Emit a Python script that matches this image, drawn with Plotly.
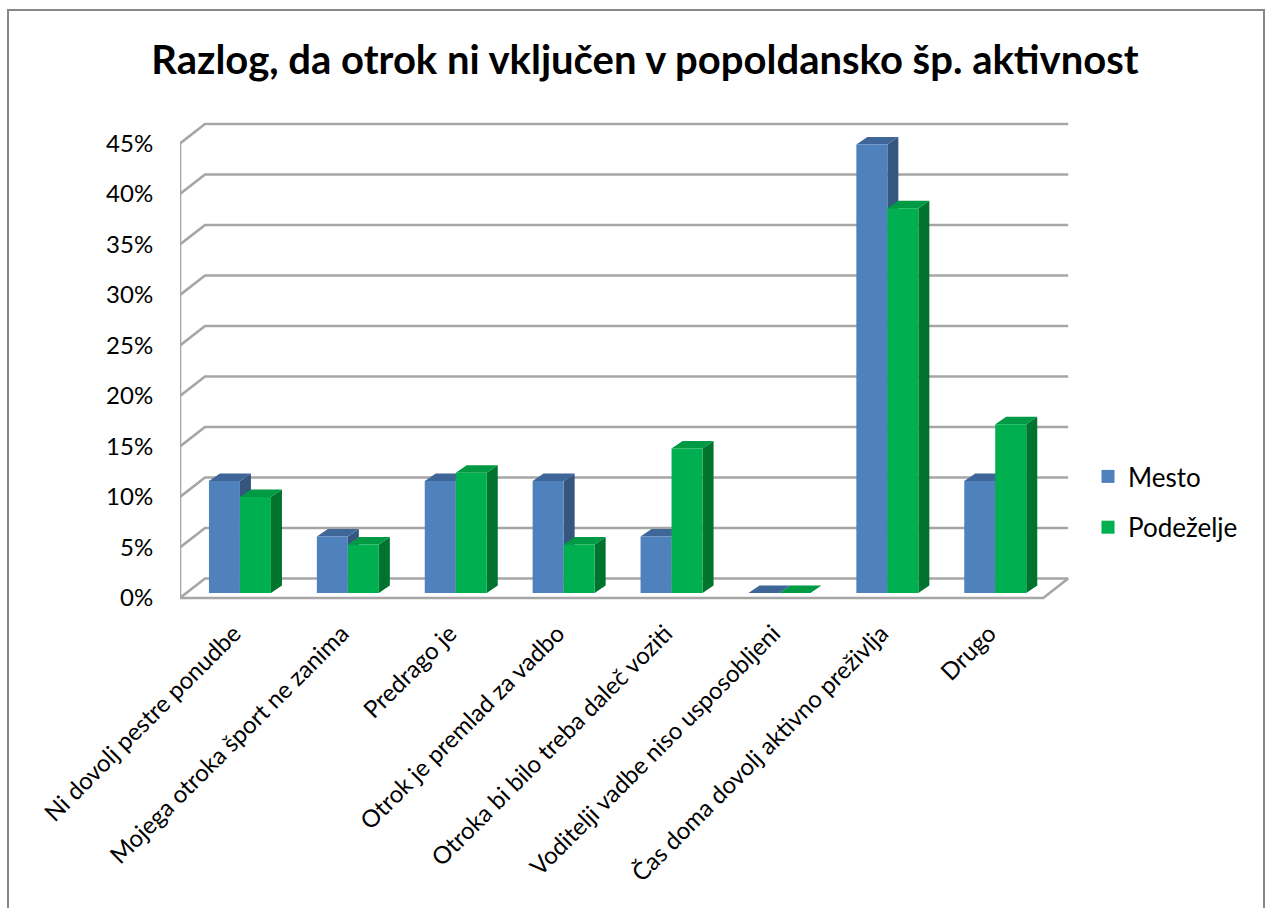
import plotly.graph_objects as go

# ---------------- data ----------------
categories = [
    "Ni dovolj pestre ponudbe",
    "Mojega otroka šport ne zanima",
    "Predrago je",
    "Otrok je premlad za vadbo",
    "Otroka bi bilo treba daleč voziti",
    "Voditelji vadbe niso usposobljeni",
    "Čas doma dovolj aktivno preživlja",
    "Drugo",
]
series_names = ["Mesto", "Podeželje"]
mesto = [11.1, 5.6, 11.1, 11.1, 5.6, 0.0, 44.4, 11.1]
podezelje = [9.5, 4.8, 11.9, 4.8, 14.3, 0.0, 38.1, 16.7]
y_ticks = [0, 5, 10, 15, 20, 25, 30, 35, 40, 45]

# ---------------- geometry / style ----------------
FONT = "Lato"
W_PX, H_PX = 1271, 908
L, R, T, B = 180, 196, 115, 308
PLOT_W = W_PX - L - R
PLOT_H = H_PX - T - B
CAT_PX = 107.9           # px per category
Y_PX = 10.1              # px per percent
xr = [0, PLOT_W / CAT_PX]
y_bottom = -(600 - 598) / Y_PX
yr = [y_bottom, y_bottom + PLOT_H / Y_PX]

n = len(categories)
depth_x = 25 / CAT_PX     # wall depth
depth_y = 19.5 / Y_PX
bar_w = 31 / CAT_PX
shift_x = 6 / CAT_PX      # bars sit a bit behind the front
base = 5 / Y_PX
bdx = 11 / CAT_PX         # bar depth
bdy = 7.5 / Y_PX

colors = {
    "Mesto": ("#4F81BD", "#3E6699", "#35577F"),
    "Podeželje": ("#00B050", "#009944", "#00742F"),
}
grid_col = "#A6A6A6"

fig = go.Figure()

# ---- walls & gridlines ----
gx, gy = [], []
for v in y_ticks:
    gx += [0, depth_x, n + depth_x, None]
    gy += [v, v + depth_y, v + depth_y, None]
# left front vertical
gx += [0, 0, None]
gy += [0, y_ticks[-1], None]
# floor front + right edge
gx += [0, n, n + depth_x, None]
gy += [0, 0, depth_y, None]
fig.add_trace(go.Scatter(x=gx, y=gy, mode="lines", line=dict(color=grid_col, width=2.6),
                         hoverinfo="skip", showlegend=False))

# ---- bars (3D-look polygons) ----
for s, (name, vals) in enumerate(zip(series_names, [mesto, podezelje])):
    front_c, top_c, side_c = colors[name]
    fx, fy, tx, ty, sx, sy = [], [], [], [], [], []
    for i, v in enumerate(vals):
        x0 = i + 0.5 + shift_x - bar_w + s * bar_w
        x1 = x0 + bar_w
        b0, b1 = base, base + v
        fx += [x0, x1, x1, x0, x0, None]
        fy += [b0, b0, b1, b1, b0, None]
        sx += [x1, x1 + bdx, x1 + bdx, x1, x1, None]
        sy += [b0, b0 + bdy, b1 + bdy, b1, b0, None]
        tx += [x0, x1, x1 + bdx, x0 + bdx, x0, None]
        ty += [b1, b1, b1 + bdy, b1 + bdy, b1, None]
    for px_, py_, c in [(sx, sy, side_c), (tx, ty, top_c), (fx, fy, front_c)]:
        fig.add_trace(go.Scatter(x=px_, y=py_, mode="lines", fill="toself", fillcolor=c,
                                 line=dict(width=0, color=c), hoverinfo="skip",
                                 showlegend=False))
    # legend entry
    fig.add_trace(go.Scatter(x=[None], y=[None], mode="markers", name=name,
                             legendgroup=name,
                             marker=dict(symbol="square", size=13, color=front_c)))

# ---- frame ----
def px2paper_x(p):
    return (p - L) / PLOT_W

def px2paper_y(p):
    return (H_PX - B - p) / PLOT_H

fig.add_shape(type="rect", xref="paper", yref="paper",
              x0=px2paper_x(8), x1=px2paper_x(1264),
              y0=px2paper_y(930), y1=px2paper_y(10),
              line=dict(color="#878787", width=2), fillcolor="rgba(0,0,0,0)", layer="below")

fig.update_layout(
    width=W_PX, height=H_PX,
    margin=dict(l=L, r=R, t=T, b=B),
    plot_bgcolor="white", paper_bgcolor="white",
    font=dict(family=FONT, color="black"),
    title=dict(text="<b>Razlog, da otrok ni vključen v popoldansko šp. aktivnost</b>",
               x=645 / W_PX, xanchor="center", y=1 - 60 / H_PX, yanchor="middle",
               yref="container", font=dict(size=40, family=FONT, color="black")),
    xaxis=dict(range=xr, showgrid=False, zeroline=False, showline=False,
               tickmode="array", tickvals=[i + 0.5 for i in range(n)], ticktext=categories,
               tickangle=-45, ticks="outside", ticklen=9, tickcolor="rgba(0,0,0,0)",
               tickfont=dict(size=24, family=FONT, color="black")),
    yaxis=dict(range=yr, showgrid=False, zeroline=False, showline=False,
               tickmode="array", tickvals=y_ticks, ticktext=[f"{v}%" for v in y_ticks],
               ticks="outside", ticklen=21, tickcolor="rgba(0,0,0,0)",
               tickfont=dict(size=24, family=FONT, color="black")),
    legend=dict(x=px2paper_x(1088), y=px2paper_y(502), xanchor="left", yanchor="middle",
                font=dict(size=26, family=FONT, color="black"), tracegroupgap=14,
                itemwidth=30, bgcolor="rgba(0,0,0,0)"),
    showlegend=True,
)

fig.write_html("out.html")
